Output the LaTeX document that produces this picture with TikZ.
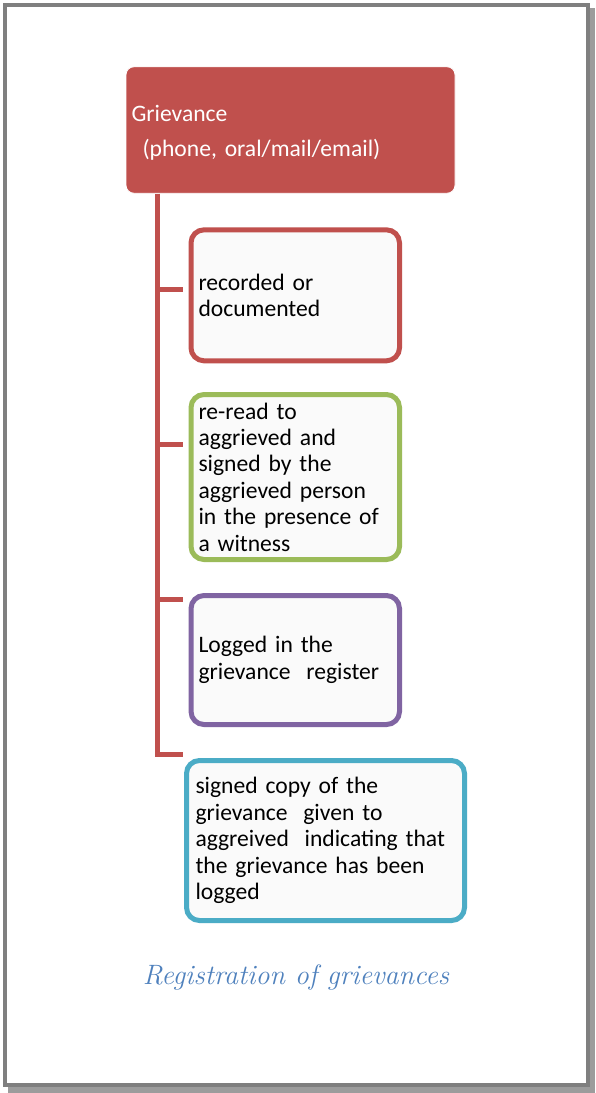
\documentclass[tikz,border=0pt]{standalone}
\usepackage{fontspec}
\newfontfamily\calibri{Carlito}
\definecolor{accred}{HTML}{C0504D}
\definecolor{accgreen}{HTML}{9BBB59}
\definecolor{accpurple}{HTML}{8064A2}
\definecolor{acccyan}{HTML}{4BACC6}
\definecolor{capblue}{HTML}{4F81BD}
\definecolor{framegray}{HTML}{7F7F7F}
\definecolor{shadowgray}{HTML}{9C9C9C}
\definecolor{boxfill}{HTML}{FAFAFA}
\begin{document}
\begin{tikzpicture}[x=1pt,y=-1pt,
  boxtext/.style={font=\calibri\fontsize{23.6}{26.4}\selectfont, align=left},
  headbox/.style={boxtext, fill=accred, draw=white, line width=0.8pt,
    rounded corners=8pt, text=white, inner xsep=5.5pt, inner ysep=0pt},
  stepbox/.style={boxtext, draw=#1, fill=boxfill, line width=5pt,
    rounded corners=13pt, inner xsep=7.5pt, inner ysep=0pt},
  conn/.style={draw=accred, line width=5pt, line join=miter}]
\useasboundingbox (0,0) rectangle (595,1093);
% page frame with its drop shadow
\fill[shadowgray] (8,8) rectangle (595,1093);
\filldraw[fill=white, draw=framegray, line width=4pt] (5,5) rectangle (587.5,1085);

% head of the hierarchy
\node[headbox, minimum width=329pt, minimum height=126.5pt, text width=318pt]
  (top) at (290.5,130) {\rule{0pt}{21pt}Grievance\\[8.6pt]\hspace*{11pt}(phone, oral/mail/email)};

% steps
\node[stepbox=accred, minimum width=208.5pt, minimum height=131pt, text width=193.5pt]
  (rec) at (295.25,295.3) {recorded or\\documented};
\node[stepbox=accgreen, minimum width=208.5pt, minimum height=165pt, text width=193.5pt]
  (reread) at (295.25,477) {re-read to\\aggrieved and\\signed by the\\aggrieved person\\in the presence of\\a witness};
\node[stepbox=accpurple, minimum width=208.5pt, minimum height=129pt, text width=193.5pt]
  (logged) at (295.25,660) {Logged in the\\grievance\ \ register};
\node[stepbox=acccyan, minimum width=278pt, minimum height=160pt, text width=260pt, inner xsep=9pt]
  (copy) at (325.5,840.5) {signed copy of the\\grievance\ \ given to\\aggreived\ \ indicating that\\the grievance has been\\logged};

% trunk and branch stubs
\coordinate (s1) at (183,289);
\coordinate (s2) at (183,444);
\coordinate (s3) at (183,599);
\coordinate (s4) at (183,754);
\coordinate (t0) at (top.south -| 157,0);
\draw[conn] (t0) -- (t0 |- s4) -- (s4);
\foreach \s in {s1,s2,s3} \draw[conn] (t0 |- \s) -- (\s);

% caption
\node[text=capblue, font=\itshape\fontsize{28}{30}\selectfont, anchor=base]
  (cap) at (296,984) {Registration of grievances};
\end{tikzpicture}
\end{document}
